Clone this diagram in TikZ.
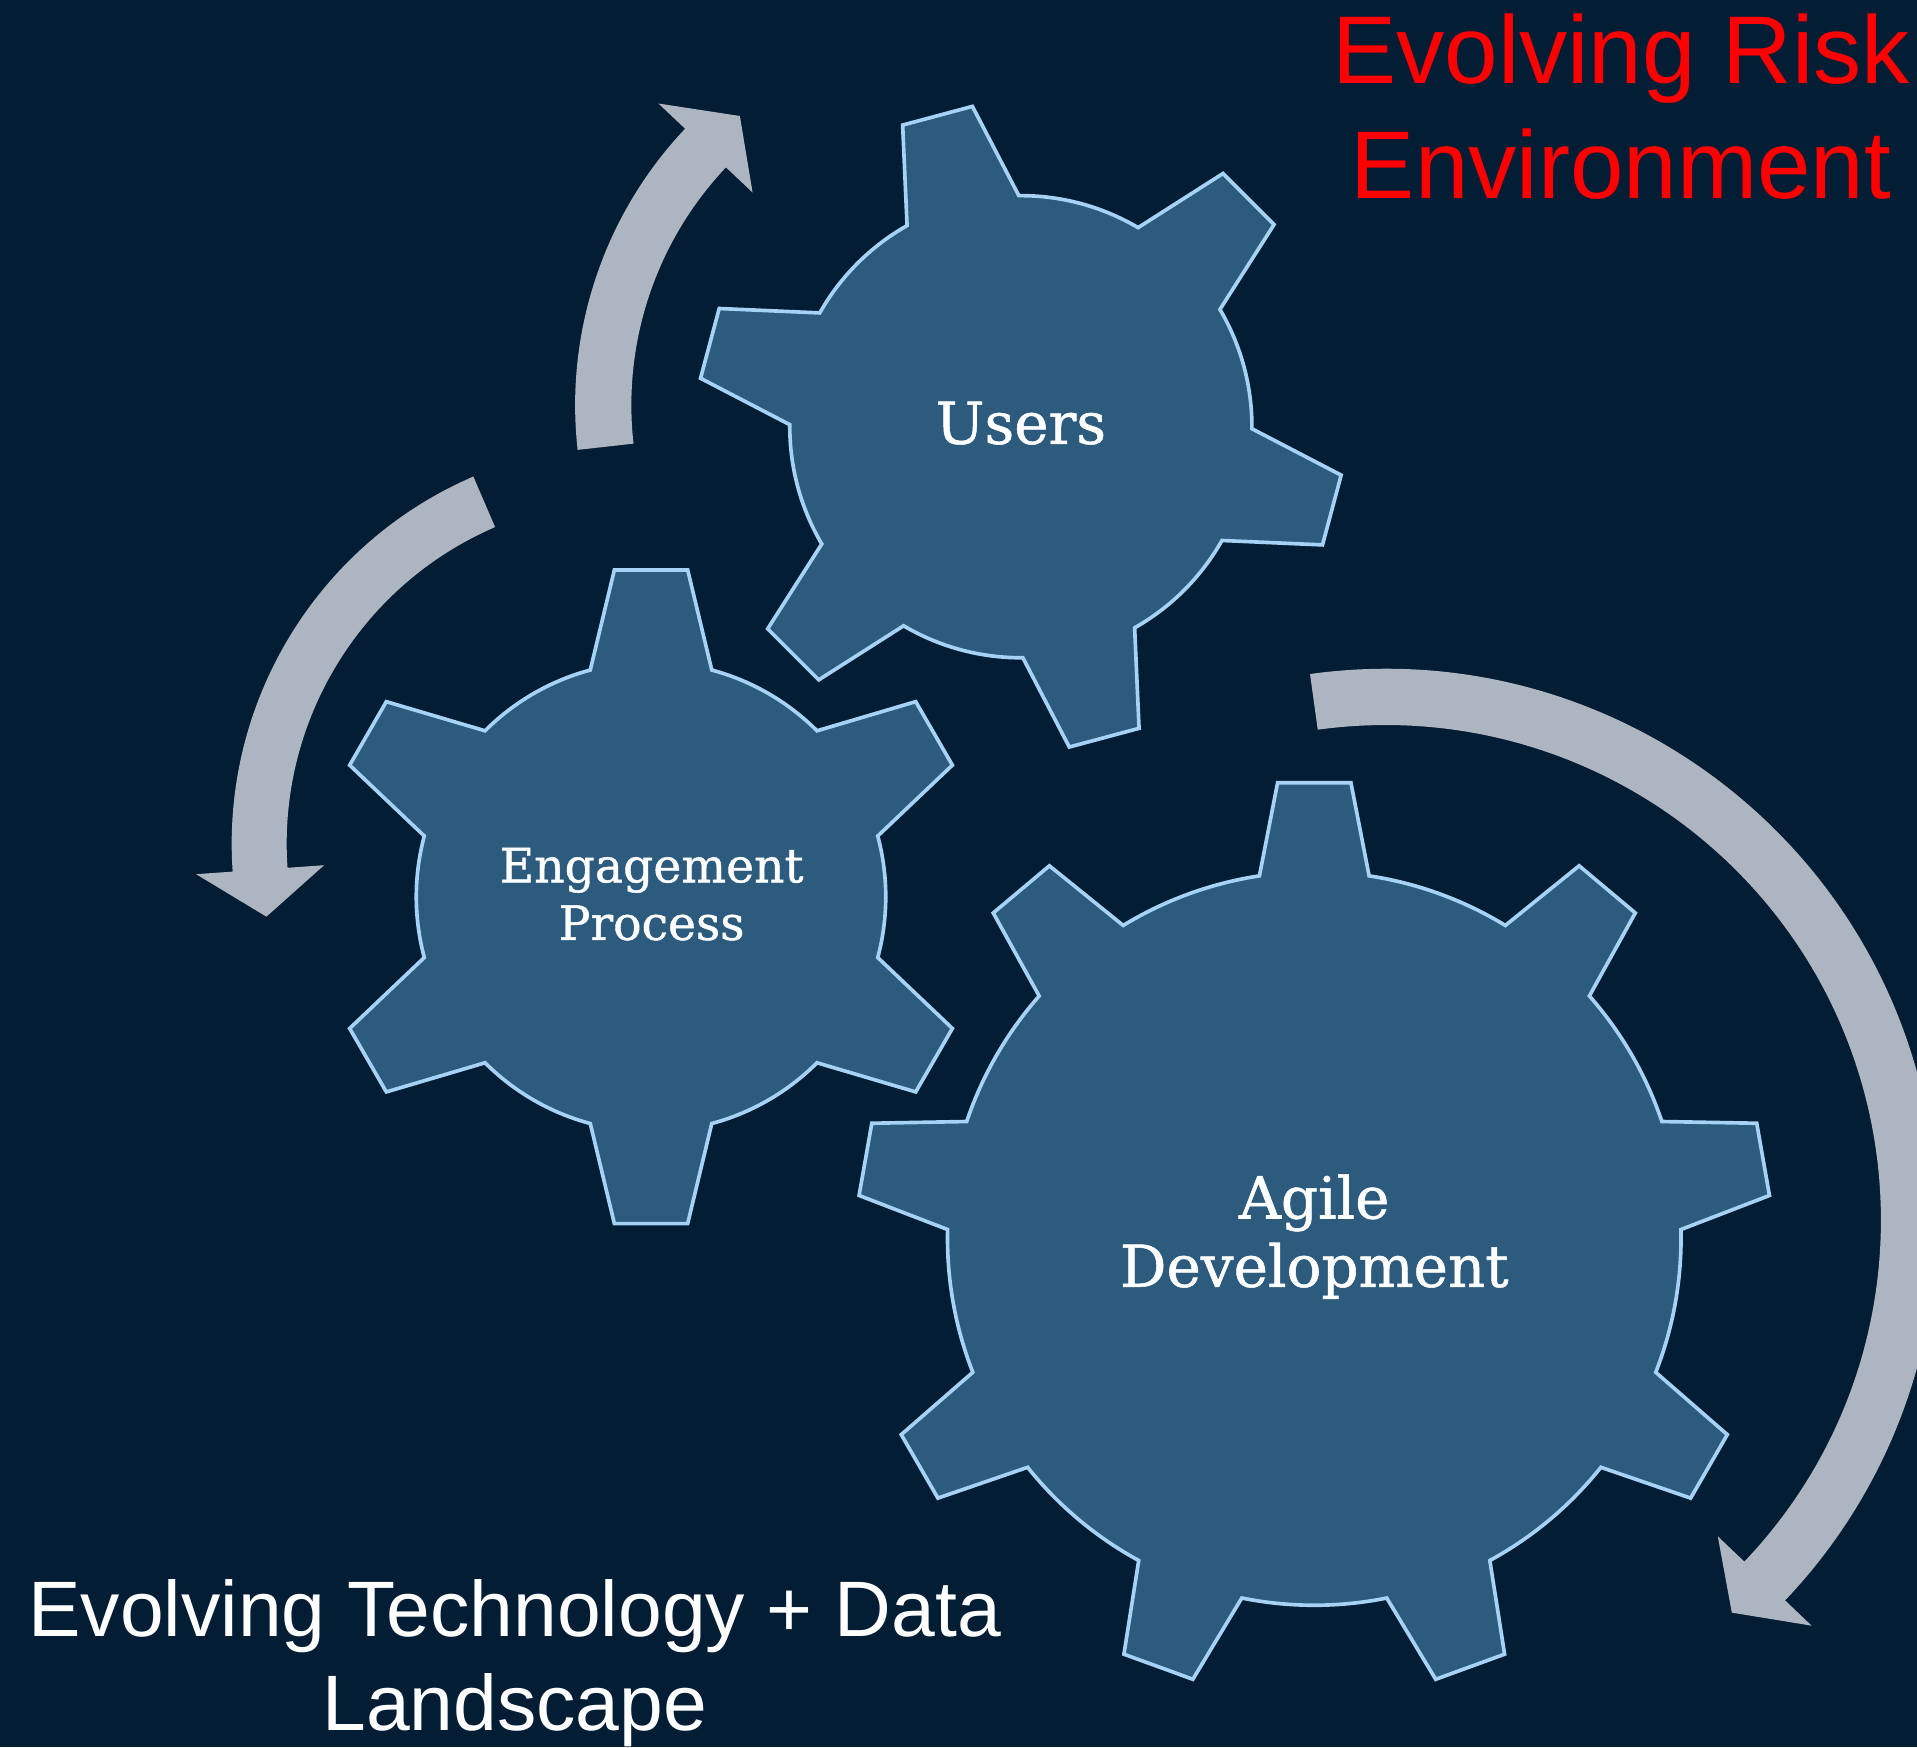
\documentclass[tikz,border=0pt]{standalone}
\usepackage{fontspec}
\setmainfont{Liberation Sans}
\newfontfamily\slabfont[FakeBold=0.9]{DejaVu Serif}
\usetikzlibrary{calc}
\definecolor{bgNavy}{RGB}{3,29,53}
\definecolor{gearBlue}{RGB}{44,91,126}
\definecolor{gearEdge}{RGB}{165,210,245}
\definecolor{arrowGrey}{RGB}{173,181,192}
\definecolor{titleRed}{RGB}{255,0,0}

% gear: centre, teeth, first tooth angle, body r, tip r, base half angle, tip half angle
\newcommand{\drawgear}[7]{%
  \draw[gear, shift={(#1)}] ({#3-#6}:#4)
    \foreach \i [evaluate=\i as \a using #3+(\i-1)*360/#2] in {1,...,#2} {
      -- ({\a-#7}:#5) -- ({\a+#7}:#5) -- ({\a+#6}:#4)
      arc[start angle={\a+#6}, end angle={\a+360/#2-#6}, radius=#4]
    } -- cycle;}

% curved arrow: centre, inner r, outer r, tail angle, neck angle, tip angle
\newcommand{\cyclearrow}[6]{%
  \fill[cycle arrow, shift={(#1)}] ({#4}:#3) arc[start angle=#4, end angle=#5, radius=#3]
    -- ({#5}:{#3+30}) -- ({#6}:{(#2+#3)/2}) -- ({#5}:{#2-30}) -- ({#5}:#2)
    arc[start angle=#5, end angle=#4, radius=#2] -- cycle;}

\begin{document}
\begin{tikzpicture}[x=0.1mm, y=-0.1mm,
    gear/.style={fill=gearBlue, draw=gearEdge, line width=0.85pt, line join=miter},
    cycle arrow/.style={fill=arrowGrey},
    gearlabel/.style={text=white, font=\slabfont, inner sep=0pt, align=center},
    title/.style={inner sep=0pt, align=center}]
    \useasboundingbox (0,0) rectangle (1568,1429);
    \fill[bgNavy] (0,0) rectangle (1568,1429);

    \coordinate (usersC) at (835,349);
    \coordinate (engageC) at (532.5,733.5);
    \coordinate (agileC) at (1075,1013);

    % arrows round the gears
    \cyclearrow{799.4,331.3}{283}{329}{173.6}{223.4}{230.6}
    \cyclearrow{516.5,690.1}{282}{327}{246.7}{176}{168.7}
    \cyclearrow{1133.5,998}{405}{451}{-97.9}{43.6}{48.6}

    % gears
    \drawgear{agileC}{9}{-90}{300}{374}{8.6}{4.6}
    \drawgear{engageC}{6}{-90}{192}{269}{15}{6.4}
    \drawgear{usersC}{6}{15}{189}{265}{14.5}{6.4}

    \node[gearlabel, anchor=base, font=\slabfont\fontsize{13.5}{15.9}\selectfont] (usersLabel) at (835,363) {Users};
    \node[gearlabel, font=\slabfont\fontsize{11}{13.4}\selectfont] (engageLabel) at (533,731.4) {Engagement\\Process};
    \node[gearlabel, font=\slabfont\fontsize{13.5}{15.9}\selectfont] (agileLabel) at (1075,1011.5) {Agile\\Development};

    \node[title, text=titleRed, font=\fontsize{22.4}{26.8}\selectfont] (riskTitle) at (1326,87) {Evolving Risk\\Environment};
    \node[title, text=white, font=\fontsize{18.3}{22}\selectfont] (techTitle) at (421,1360.4) {Evolving Technology + Data\\Landscape};
\end{tikzpicture}
\end{document}
